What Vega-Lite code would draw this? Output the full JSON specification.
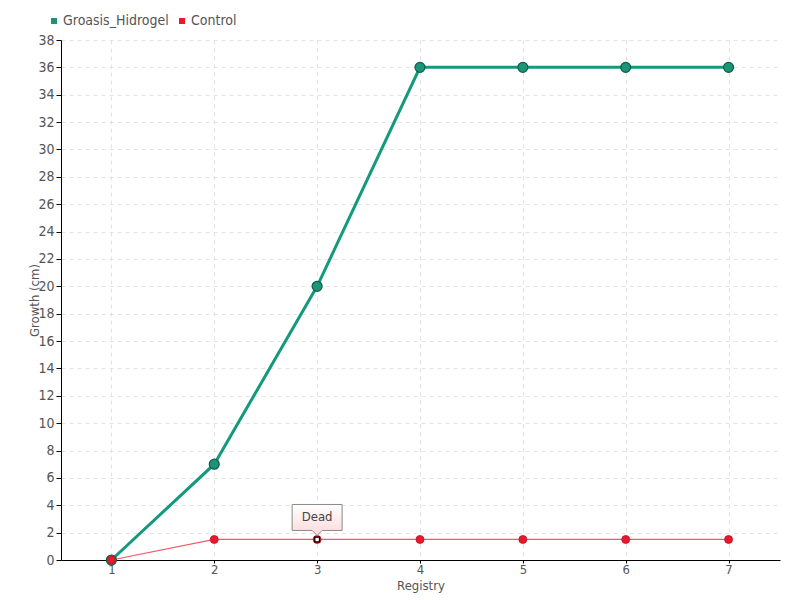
{
  "$schema": "https://vega.github.io/schema/vega-lite/v6.json",
  "width": 719,
  "height": 520,
  "autosize": {"type": "none"},
  "padding": {"left": 61, "top": 40, "right": 20, "bottom": 40},
  "background": "white",
  "config": {
    "font": "DejaVu Sans Condensed",
    "view": {"stroke": null},
    "axis": {
      "labelFont": "DejaVu Sans Condensed",
      "titleFont": "DejaVu Sans Condensed",
      "labelColor": "#555555",
      "titleColor": "#555555",
      "labelFontSize": 14,
      "titleFontSize": 14,
      "titleFontWeight": "normal",
      "domainColor": "#000000",
      "tickColor": "#000000",
      "gridColor": "#e2e2e2",
      "gridDash": [4, 4]
    },
    "legend": {
      "labelFont": "DejaVu Sans Condensed",
      "labelFontSize": 14,
      "labelColor": "#555555"
    }
  },
  "datasets": {
    "series": [
      {"registry": 1, "growth": 0, "series": "Groasis_Hidrogel"},
      {"registry": 2, "growth": 7, "series": "Groasis_Hidrogel"},
      {"registry": 3, "growth": 20, "series": "Groasis_Hidrogel"},
      {"registry": 4, "growth": 36, "series": "Groasis_Hidrogel"},
      {"registry": 5, "growth": 36, "series": "Groasis_Hidrogel"},
      {"registry": 6, "growth": 36, "series": "Groasis_Hidrogel"},
      {"registry": 7, "growth": 36, "series": "Groasis_Hidrogel"},
      {"registry": 1, "growth": 0, "series": "Control"},
      {"registry": 2, "growth": 1.5, "series": "Control"},
      {"registry": 3, "growth": 1.5, "series": "Control"},
      {"registry": 4, "growth": 1.5, "series": "Control"},
      {"registry": 5, "growth": 1.5, "series": "Control"},
      {"registry": 6, "growth": 1.5, "series": "Control"},
      {"registry": 7, "growth": 1.5, "series": "Control"}
    ],
    "notes": [
      {"registry": 3, "growth": 1.5, "label": "Dead"}
    ]
  },
  "data": {"name": "series"},
  "encoding": {
    "x": {
      "field": "registry",
      "type": "quantitative",
      "scale": {"domain": [0.51, 7.5], "nice": false, "zero": false},
      "axis": {"values": [1, 2, 3, 4, 5, 6, 7], "format": "d", "title": "Registry", "titlePadding": 3, "tickSize": 3, "labelPadding": 0, "labelFontSize": 13, "titleFontSize": 13}
    },
    "y": {
      "field": "growth",
      "type": "quantitative",
      "scale": {"domain": [0, 38], "nice": false},
      "axis": {"values": [0,2,4,6,8,10,12,14,16,18,20,22,24,26,28,30,32,34,36,38], "title": "Growth (cm)", "titleX": -20, "titleFontSize": 13, "tickSize": 5, "labelPadding": 2}
    }
  },
  "layer": [
    {
      "transform": [{"filter": "datum.series === 'Groasis_Hidrogel'"}],
      "mark": {"type": "line", "strokeWidth": 3, "color": "#139a7c"},
      "encoding": {}
    },
    {
      "transform": [{"filter": "datum.series === 'Control'"}],
      "mark": {"type": "line", "strokeWidth": 1.2, "color": "#f25866"},
      "encoding": {}
    },
    {
      "transform": [{"filter": "datum.series === 'Groasis_Hidrogel'"}],
      "mark": {"type": "point", "filled": true, "size": 100, "stroke": "#0e5c48", "strokeWidth": 1.2, "opacity": 1},
      "encoding": {
        "color": {
          "field": "series",
          "type": "nominal",
          "scale": {"domain": ["Groasis_Hidrogel", "Control"], "range": ["#1b9478", "#e8192c"]},
          "legend": {
            "title": null,
            "orient": "none",
            "direction": "horizontal",
            "legendX": -14,
            "legendY": -26,
            "symbolType": "square",
            "symbolSize": 36,
            "symbolStrokeWidth": 0,
            "symbolOpacity": 1,
            "labelOffset": 2,
            "columnPadding": 6
          }
        }
      }
    },
    {
      "transform": [{"filter": "datum.series === 'Control'"}],
      "mark": {"type": "point", "filled": true, "size": 64, "fill": "#e8192c", "stroke": "#c0101f", "strokeWidth": 0.8, "opacity": 1},
      "encoding": {}
    },
    {
      "data": {"name": "notes"},
      "mark": {"type": "point", "shape": "square", "filled": true, "size": 22, "fill": "#ffffff", "stroke": "#000000", "strokeWidth": 1.3, "opacity": 1},
      "encoding": {}
    },
    {
      "data": {"name": "notes"},
      "mark": {
        "type": "point",
        "shape": "M-1,-1.4H1V-0.36H0.2L0,-0.16L-0.2,-0.36H-1Z",
        "size": 2500,
        "filled": true,
        "opacity": 1,
        "fill": {"gradient": "linear", "x1": 0, "y1": 0, "x2": 0, "y2": 1, "stops": [{"offset": 0, "color": "#ffffff"}, {"offset": 1, "color": "#fbd9da"}]},
        "stroke": "#8a8a8a",
        "strokeWidth": 1
      },
      "encoding": {}
    },
    {
      "data": {"name": "notes"},
      "mark": {"type": "text", "font": "DejaVu Sans Condensed", "fontSize": 13, "color": "#444444", "yOffset": -22},
      "encoding": {"text": {"field": "label"}}
    }
  ]
}
